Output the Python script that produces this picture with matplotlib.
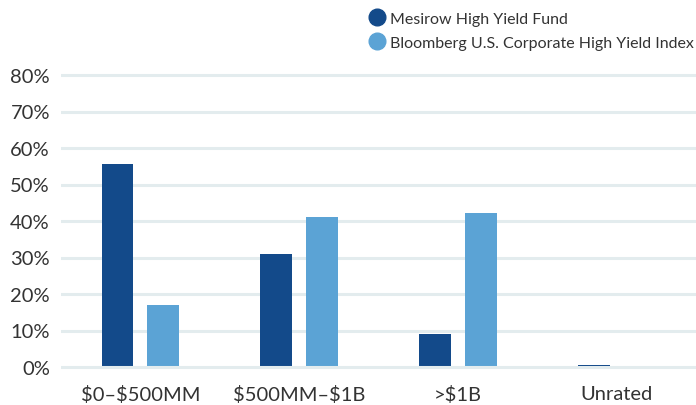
import numpy as np
import matplotlib
matplotlib.use('Agg')
import matplotlib.pyplot as plt
from matplotlib.lines import Line2D

categories = ['$0–$500MM', '$500MM–$1B', '>$1B', 'Unrated']
fund_values = [55.6, 31.0, 9.0, 0.5]
index_values = [17.0, 41.1, 42.2, 0.0]
series_names = ['Mesirow High Yield Fund', 'Bloomberg U.S. Corporate High Yield Index']
y_ticks = [0, 10, 20, 30, 40, 50, 60, 70, 80]

dark = '#134a8a'
light = '#5ba3d5'
grid_col = '#e3ecee'
text_col = '#333333'

plt.rcParams['font.family'] = ['Lato', 'DejaVu Sans']
plt.rcParams['text.parse_math'] = False

fig = plt.figure(figsize=(6.96, 4.06), dpi=100)
ymin, ymax = -1, 81
px_unit = (368 - 76) / 80.0
bot_px = 368 + px_unit * (0 - ymin)
top_px = 76 - px_unit * (ymax - 80)
ax = fig.add_axes([61 / 696, 1 - bot_px / 406, 1 - 61 / 696, (bot_px - top_px) / 406])

x = np.arange(len(categories))
w = 0.2
off = 0.1435
ax.bar(x - off, fund_values, w, color=dark, zorder=2)
ax.bar(x + off, index_values, w, color=light, zorder=2)

for t in y_ticks:
    ax.axhline(t, color=grid_col, lw=2.2, zorder=1 if t else 3)

ax.set_xlim(-0.5, 3.5)
ax.set_ylim(ymin, ymax)
ax.set_yticks(y_ticks)
ax.set_yticklabels([f'{t}%' for t in y_ticks])
ax.set_xticks(x)
ax.set_xticklabels(categories)
ax.tick_params(length=0, labelsize=14.5, colors=text_col)
ax.tick_params(axis='y', pad=8)
ax.tick_params(axis='x', pad=10)
for s in ax.spines.values():
    s.set_visible(False)

handles = [Line2D([], [], ls='none', marker='o', ms=12, color=c) for c in (dark, light)]
fig.legend(handles, series_names, loc='upper left', bbox_to_anchor=(0.507, 1.005),
           frameon=False, fontsize=11.5, handletextpad=0.25, labelspacing=0.65,
           handlelength=1.2, labelcolor=text_col)

fig.savefig('out.png', dpi=100)
